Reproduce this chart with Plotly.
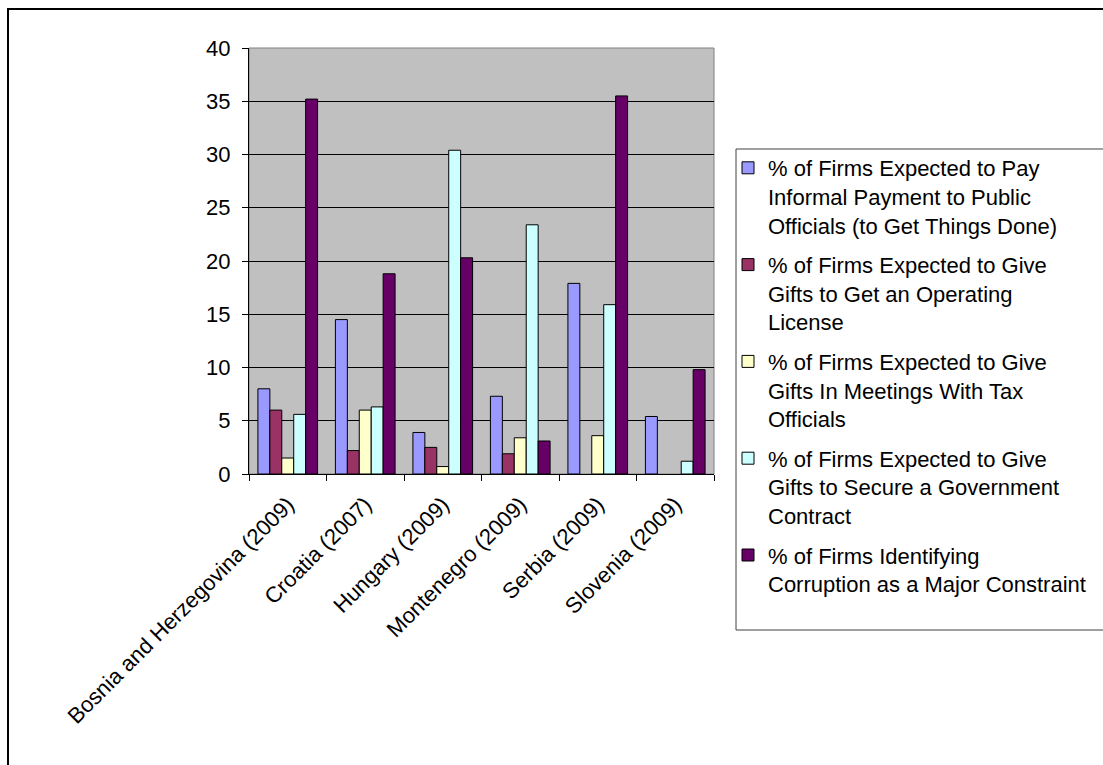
import plotly.graph_objects as go

# Countries (survey year) and the five indicators, in percent of firms
countries = [
    "Bosnia and Herzegovina (2009)",
    "Croatia (2007)",
    "Hungary (2009)",
    "Montenegro (2009)",
    "Serbia (2009)",
    "Slovenia (2009)",
]

informal_payment = [8.0, 14.5, 3.9, 7.3, 17.9, 5.4]
gifts_operating_license = [6.0, 2.2, 2.5, 1.9, None, None]
gifts_tax_meetings = [1.5, 6.0, 0.7, 3.4, 3.6, None]
gifts_gov_contract = [5.6, 6.3, 30.4, 23.4, 15.9, 1.2]
corruption_constraint = [35.2, 18.8, 20.3, 3.1, 35.5, 9.8]

series_names = [
    "% of Firms Expected to Pay<br>Informal Payment to Public<br>Officials (to Get Things Done)",
    "% of Firms Expected to Give<br>Gifts to Get an Operating<br>License",
    "% of Firms Expected to Give<br>Gifts In Meetings With Tax<br>Officials",
    "% of Firms Expected to Give<br>Gifts to Secure a Government<br>Contract",
    "% of Firms Identifying<br>Corruption as a Major Constraint",
]
series_values = [
    informal_payment,
    gifts_operating_license,
    gifts_tax_meetings,
    gifts_gov_contract,
    corruption_constraint,
]
series_colors = ["#9999FF", "#993366", "#FFFFCC", "#CCFFFF", "#660066"]

y_ticks = [0, 5, 10, 15, 20, 25, 30, 35, 40]

FONT = "Liberation Sans, Arial, sans-serif"
FS = 22

fig = go.Figure()
for i, (name, vals, col) in enumerate(zip(series_names, series_values, series_colors)):
    fig.add_trace(
        go.Bar(
            x=countries,
            y=vals,
            name=name,
            legendgroup=f"g{i}",
            marker=dict(color=col, line=dict(color="black", width=1)),
        )
    )

W, H = 1103, 765
L, R, T, B = 249, 714, 48, 474
PW, PH = R - L, B - T


def px_x(x):
    return (x - L) / PW


def px_y(y):
    return 1 - (y - T) / PH


fig.update_layout(
    width=W,
    height=H,
    margin=dict(l=L, r=W - R, t=T, b=H - B, pad=0),
    paper_bgcolor="white",
    plot_bgcolor="#C0C0C0",
    barmode="group",
    bargap=0.23,
    bargroupgap=0,
    font=dict(family=FONT, size=FS, color="black"),
    legend=dict(
        x=px_x(728),
        xanchor="left",
        y=px_y(147),
        yanchor="top",
        bgcolor="rgba(0,0,0,0)",
        borderwidth=0,
        valign="top",
        tracegroupgap=8,
        maxheight=700,
        font=dict(family=FONT, size=FS, color="black"),
    ),
    xaxis=dict(
        type="category",
        tickangle=-45,
        tickson="boundaries",
        ticks="outside",
        ticklen=6,
        tickcolor="black",
        ticklabelstandoff=8,
        showline=True,
        linecolor="black",
        linewidth=1,
        showgrid=False,
        tickfont=dict(family=FONT, size=FS, color="black"),
    ),
    yaxis=dict(
        range=[0, 40],
        tickvals=y_ticks,
        ticks="outside",
        ticklen=6,
        tickcolor="black",
        ticklabelstandoff=7,
        showline=True,
        linecolor="black",
        linewidth=1,
        showgrid=True,
        gridcolor="black",
        gridwidth=1,
        zeroline=False,
        tickfont=dict(family=FONT, size=FS, color="black"),
    ),
    shapes=[
        # outer chart frame
        dict(
            type="rect",
            xref="paper",
            yref="paper",
            x0=px_x(8),
            x1=3,
            y0=-3,
            y1=px_y(9),
            line=dict(color="black", width=2),
            fillcolor="rgba(0,0,0,0)",
            layer="below",
        ),
        # plot area border (top and right)
        dict(
            type="rect",
            xref="paper",
            yref="paper",
            x0=0,
            x1=1,
            y0=0,
            y1=1,
            line=dict(color="#808080", width=1),
            fillcolor="rgba(0,0,0,0)",
            layer="below",
        ),
        # legend box
        dict(
            type="rect",
            xref="paper",
            yref="paper",
            x0=px_x(736),
            x1=px_x(1140),
            y0=px_y(630),
            y1=px_y(149),
            line=dict(color="#404040", width=1),
            fillcolor="white",
            layer="below",
        ),
    ],
)

fig.write_html("out.html")
